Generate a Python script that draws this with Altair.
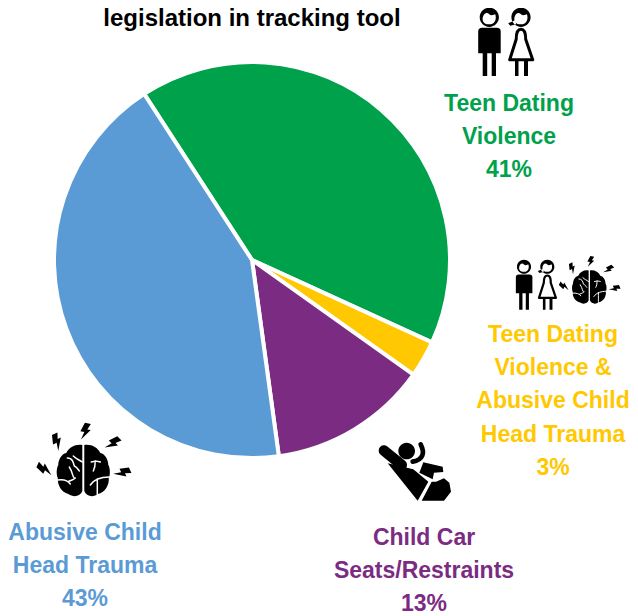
import math
import altair as alt

# ---- data ----
categories = ["Teen Dating Violence", "Teen Dating Violence & Abusive Child Head Trauma",
              "Child Car Seats/Restraints", "Abusive Child Head Trauma"]
values = [41, 3, 13, 43]
colors = ["#00A14B", "#FFC800", "#7B2C82", "#5B9BD5"]
title_text = "legislation in tracking tool"
label_lines = [
    ["Teen Dating", "Violence", "41%"],
    ["Teen Dating", "Violence &", "Abusive Child", "Head Trauma", "3%"],
    ["Child Car", "Seats/Restraints", "13%"],
    ["Abusive Child", "Head Trauma", "43%"],
]
label_pos = [(509, 111), (553, 342), (424, 545), (85, 540)]

OFF = 8  # page margin
FONT = "Liberation Sans"
blank = alt.Data(values=[{"a": 1}])


def circle(cx, cy, r):
    k = 0.5523
    return (f"M{cx-r},{cy}C{cx-r},{cy-k*r} {cx-k*r},{cy-r} {cx},{cy-r}"
            f"C{cx+k*r},{cy-r} {cx+r},{cy-k*r} {cx+r},{cy}"
            f"C{cx+r},{cy+k*r} {cx+k*r},{cy+r} {cx},{cy+r}"
            f"C{cx-k*r},{cy+r} {cx-r},{cy+k*r} {cx-r},{cy}Z")


def rect(x0, y0, x1, y1):
    return f"M{x0},{y0}L{x1},{y0}L{x1},{y1}L{x0},{y1}Z"


def poly(*pts):
    return "M" + "L".join(f"{x},{y}" for x, y in pts) + "Z"


def piece(path, x, y, s, kind="fill", color="black", sw=0):
    size = 4 * s * s
    if kind == "fill":
        mark = alt.Chart(blank).mark_point(shape=path, size=size, filled=True, fill=color,
                                           opacity=1, strokeWidth=0)
    else:
        mark = alt.Chart(blank).mark_point(shape=path, size=size, filled=False, stroke=color,
                                           opacity=1, strokeWidth=sw * s, strokeCap="round",
                                           strokeJoin="round")
    return mark.encode(x=alt.value(x - OFF), y=alt.value(y - OFF))


def face(cx):
    return (f"M{cx-6.5},0C{cx-5},-5 {cx-2},-5 {cx},-3C{cx+2},-1 {cx+5},-3 {cx+6},-3"
            f"C{cx+7},0 {cx+7},7 {cx},7C{cx-7},7 {cx-7},2 {cx-6.5},0Z")


def couple(x, y, s):
    black = (circle(-15.9, 0, 9.6) + circle(15.8, 0, 9.6)
             + "M-27,14Q-27,10.5 -23,10.5L-8.5,10.5Q-4.5,10.5 -4.5,14L-4.5,36L-27,36Z"
             + rect(-22.5, 35, -18, 58.7) + rect(-13.5, 35, -9.2, 58.7)
             + rect(9.8, 43, 13.3, 58.7) + rect(18.8, 43, 22.8, 58.7)
             + poly((10, 3), (3, 6), (5, 8.5), (11, 7)))
    dress = "M15.8,12C11.5,12 11,17 11,22L4.5,42.5L27.5,42.5L20.5,22C20.5,17 20,12 15.8,12Z"
    return [piece(black, x, y, s), piece(face(-15.9) + face(15.8), x, y, s, color="white"),
            piece(dress, x, y, s, kind="stroke", sw=3)]


def bolt_path(cx, cy, deg):
    a = math.radians(deg)
    pts = [(-1.5, -8), (4.5, -8), (2, -2), (5.5, -2), (-2.5, 9), (-0.5, 1), (-4.5, 1)]
    return poly(*[(round(cx + px * math.cos(a) - py * math.sin(a), 2),
                   round(cy + px * math.sin(a) + py * math.cos(a), 2)) for px, py in pts])


def brain(x, y, s):
    left = ("M-1,-25C-8,-26 -14,-23 -17,-17C-22,-16 -25,-10 -25,-5C-27,-2 -27,5 -25.5,8"
            "C-26,15 -22,22 -15,24C-9,28 -3,26 -1,21Z")
    right = ("M1,-25C8,-26 14,-23 17,-17C22,-16 25,-10 25,-5C27,-2 27,5 25.5,8"
             "C26,15 22,22 15,24C9,28 3,26 1,21Z")
    bolts = (bolt_path(1.7, -39, 10) + bolt_path(-26.6, -28.3, -25) + bolt_path(29.4, -27, 45)
             + bolt_path(-39, -0.7, -65) + bolt_path(39, 2.3, 65))
    creases = [
        "M-16,-12C-11,-12 -10,-8 -9,-4C-6,-3 -5,0 -4,1",
        "M-10,-14C-7,-11 -4,-10 -1,-8",
        "M-26,10C-20,9 -15,11 -13,14M-15,11.5C-11,10 -9,9 -8,8",
        "M-14,-3C-10,3 -11,7 -9,8",
        "M8,-8C12,-9 14,-9 17,-8M12,-9C12,-4 11,-1 10,1",
        "M26,7C19,7 11,9 7,15M14,9C14,16 14,22 14,26",
    ]
    return [piece(left + right + bolts, x, y, s),
            piece("".join(creases), x, y, s, kind="stroke", color="white", sw=1.5)]


def seat(x, y, s):
    black = (circle(260, 63, 25)
             + poly((203, 100), (280, 118), (325, 155), (293, 212))
             + poly((305, 212), (335, 155), (348, 155), (372, 145), (388, 158), (393, 185),
                    (372, 212))
             + poly((310, 97), (368, 110), (370, 126), (342, 128), (338, 148), (298, 128)))
    strap = "M192,62L245,105"
    arm = "M302,43C316,70 308,90 278,95"
    return [piece(black, x, y, s),
            piece(strap, x, y, s, kind="stroke", sw=32),
            piece(arm, x, y, s, kind="stroke", sw=14)]


source = alt.Data(values=[{"category": c, "value": v, "ord": i}
                          for i, (c, v) in enumerate(zip(categories, values))])

start = -33 * math.pi / 180
pie = alt.Chart(source).mark_arc(outerRadius=198, stroke="white", strokeWidth=4).encode(
    theta=alt.Theta("value:Q", stack=True,
                    scale=alt.Scale(domain=[0, 100], range=[start, start + 2 * math.pi])),
    order=alt.Order("ord:Q"),
    color=alt.Color("category:N", sort=categories, legend=None,
                    scale=alt.Scale(domain=categories, range=colors)),
    x=alt.value(252 - OFF),
    y=alt.value(260 - OFF),
)

layers = [pie]
layers.append(alt.Chart(blank).mark_text(text=title_text, font=FONT, fontWeight="bold",
                                         fontSize=24, align="center", baseline="alphabetic",
                                         color="black")
              .encode(x=alt.value(252 - OFF), y=alt.value(26 - OFF)))
for lines, col, (lx, ly) in zip(label_lines, colors, label_pos):
    layers.append(alt.Chart(blank).mark_text(text=lines, font=FONT, fontWeight="bold", fontSize=23,
                                             lineHeight=33.2, align="center", baseline="alphabetic",
                                             color=col)
                  .encode(x=alt.value(lx - OFF), y=alt.value(ly - OFF)))

layers += couple(505.2, 17.3, 1.0)
layers += couple(535.7, 266.7, 0.735)
layers += brain(83.3, 470, 1.0)
layers += brain(589.3, 286.7, 0.65)
layers += seat(320, 430, 1 / 3)

chart = alt.layer(*layers).properties(
    width=622, height=608, padding=0, autosize=alt.AutoSizeParams(type="none"),
    background="white",
).configure_view(stroke=None)

chart.save("out.html", embed_options={"renderer": "svg", "actions": False})
